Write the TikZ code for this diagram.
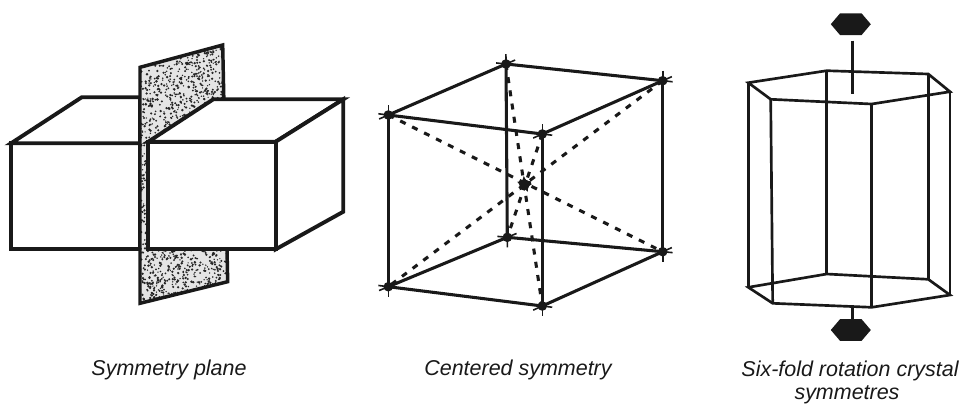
\documentclass[tikz,border=0pt]{standalone}
\usepackage{fontspec}
\setmainfont{Liberation Sans}
\begin{document}
\begin{tikzpicture}[x=0.75pt,y=-0.75pt,line join=miter,
  ink/.style={draw=black!90},
  boxline/.style={ink,line width=2.9pt,fill=white},
  planeline/.style={ink,line width=2.6pt},
  edge/.style={ink,line width=2.3pt},
  tick/.style={ink,line width=1.2pt,shorten <=-7.5pt,shorten >=-7.5pt},
  diag/.style={ink,line width=2.3pt,dash pattern=on 4.5pt off 5.5pt},
  vdot/.style={fill=black!90},
  prism/.style={ink,line width=2pt},
  marker/.style={fill=black!90},
  caption/.style={text=black!90,font=\fontsize{16.1pt}{17pt}\selectfont\itshape,inner sep=0pt,anchor=base}]
\useasboundingbox (0,0) rectangle (961,405);

% ---------- symmetry plane ----------
% left block (behind the plane)
\coordinate (L1) at (11,143.3);
\coordinate (L2) at (140,143.3);
\coordinate (L3) at (140,249.3);
\coordinate (L4) at (11,249.3);
\coordinate (L5) at (81.7,97.3);
\coordinate (L6) at (140,97.3);
\draw[boxline] (L1) -- (L2) -- (L3) -- (L4) -- cycle;
\draw[boxline] (L1) -- (L5) -- (L6) -- (L2) -- cycle;

% the stippled plane
\coordinate (P1) at (140,67.3);
\coordinate (P2) at (222.7,45);
\coordinate (P3) at (227.7,281.7);
\coordinate (P4) at (140,303.3);
\begin{scope}
  \clip (P1) -- (P2) -- (P3) -- (P4) -- cycle;
  \fill[black!10] (130,40) rectangle (235,310);
  \pgfmathsetseed{42}
  \foreach \i in {1,...,2300}
    \fill[black!85] ({137+94*rnd},{42+266*rnd}) circle ({0.5pt+0.5pt*rnd});
\end{scope}
\draw[planeline] (P1) -- (P2) -- (P3) -- (P4) -- cycle;

% right block (in front of the plane)
\coordinate (R1) at (148.3,141.7);
\coordinate (R2) at (275.7,141.7);
\coordinate (R3) at (275.7,249.3);
\coordinate (R4) at (148.3,249.3);
\coordinate (R5) at (213.3,99.3);
\coordinate (R6) at (343.3,99.3);
\coordinate (R7) at (343.3,211.7);
\draw[boxline] (R1) -- (R5) -- (R6) -- (R2) -- cycle;
\draw[boxline] (R2) -- (R6) -- (R7) -- (R3) -- cycle;
\draw[boxline] (R1) -- (R2) -- (R3) -- (R4) -- cycle;

\node[caption] (cap1) at (169,375) {Symmetry plane};

% ---------- centred symmetry ----------
\coordinate (A) at (506,64);
\coordinate (B) at (662.7,80.7);
\coordinate (C) at (388.3,115);
\coordinate (D) at (542.3,134);
\coordinate (E) at (507.3,237.3);
\coordinate (F) at (662.7,251.7);
\coordinate (G) at (388.3,286.7);
\coordinate (H) at (542.3,306);
\coordinate (O) at (524.5,184.5);

% body diagonals through the centre
\foreach \p/\q in {A/H,B/G,C/F,D/E}
  \draw[diag] (\p) -- (\q);

% edges, each with a thin overshoot past its corners
\foreach \p/\q in {A/B,C/A,C/D,D/B,A/E,B/F,C/G,D/H,E/F,G/E,G/H,H/F}{
  \draw[tick] (\p) -- (\q);
  \draw[edge] (\p) -- (\q);
}
\foreach \p in {A,B,C,D,E,F,G,H}
  \fill[vdot] (\p) circle (3.6pt);

% centre point
\fill[vdot] (O) +(0:7) -- +(30:4) -- +(65:8) -- +(95:4.2) -- +(130:7.5)
  -- +(165:4) -- +(200:7.8) -- +(235:4.2) -- +(265:8.5) -- +(300:4) -- +(330:7) -- cycle;
\fill[vdot] (O) circle (4pt);

\node[caption] (cap2) at (518,375) {Centered symmetry};

% ---------- six-fold rotation axis ----------
\coordinate (T1) at (748.3,82.7);
\coordinate (T2) at (826.7,70.7);
\coordinate (T3) at (928.3,74);
\coordinate (T4) at (950,91.7);
\coordinate (T5) at (871.7,104);
\coordinate (T6) at (770.7,99.3);
\coordinate (B1) at (748.3,287.3);
\coordinate (B2) at (826.7,274);
\coordinate (B3) at (928.3,279.3);
\coordinate (B4) at (950,295);
\coordinate (B5) at (871.7,307.3);
\coordinate (B6) at (772.7,303.3);

\foreach \i in {1,...,6}
  \draw[prism] (T\i) -- (B\i);
\draw[prism] (T1) -- (T2) -- (T3) -- (T4) -- (T5) -- (T6) -- cycle;
\draw[prism] (B1) -- (B2) -- (B3) -- (B4) -- (B5) -- (B6) -- cycle;

% axis with hexagonal symbols at both ends
\coordinate (Xt) at (850.8,24.2);
\coordinate (Xb) at (850.8,330);
\coordinate (At1) at (852.7,40.7);
\coordinate (At2) at (852.7,94);
\coordinate (Ab1) at (852.7,307);
\coordinate (Ab2) at (852.7,319);
\draw[prism,line width=2.2pt] (At1) -- (At2);
\draw[prism,line width=2.2pt] (Ab1) -- (Ab2);
\foreach \c in {Xt,Xb}
  \fill[marker] (\c) +(-20,0) -- +(-10.8,-10.8) -- +(10.8,-10.8) -- +(20,0)
    -- +(10.8,10.8) -- +(-10.8,10.8) -- cycle;

\node[caption] (cap3) at (850,376.5) {Six-fold rotation crystal};
\node[caption] (cap4) at (847,399.3) {symmetres};
\end{tikzpicture}
\end{document}
